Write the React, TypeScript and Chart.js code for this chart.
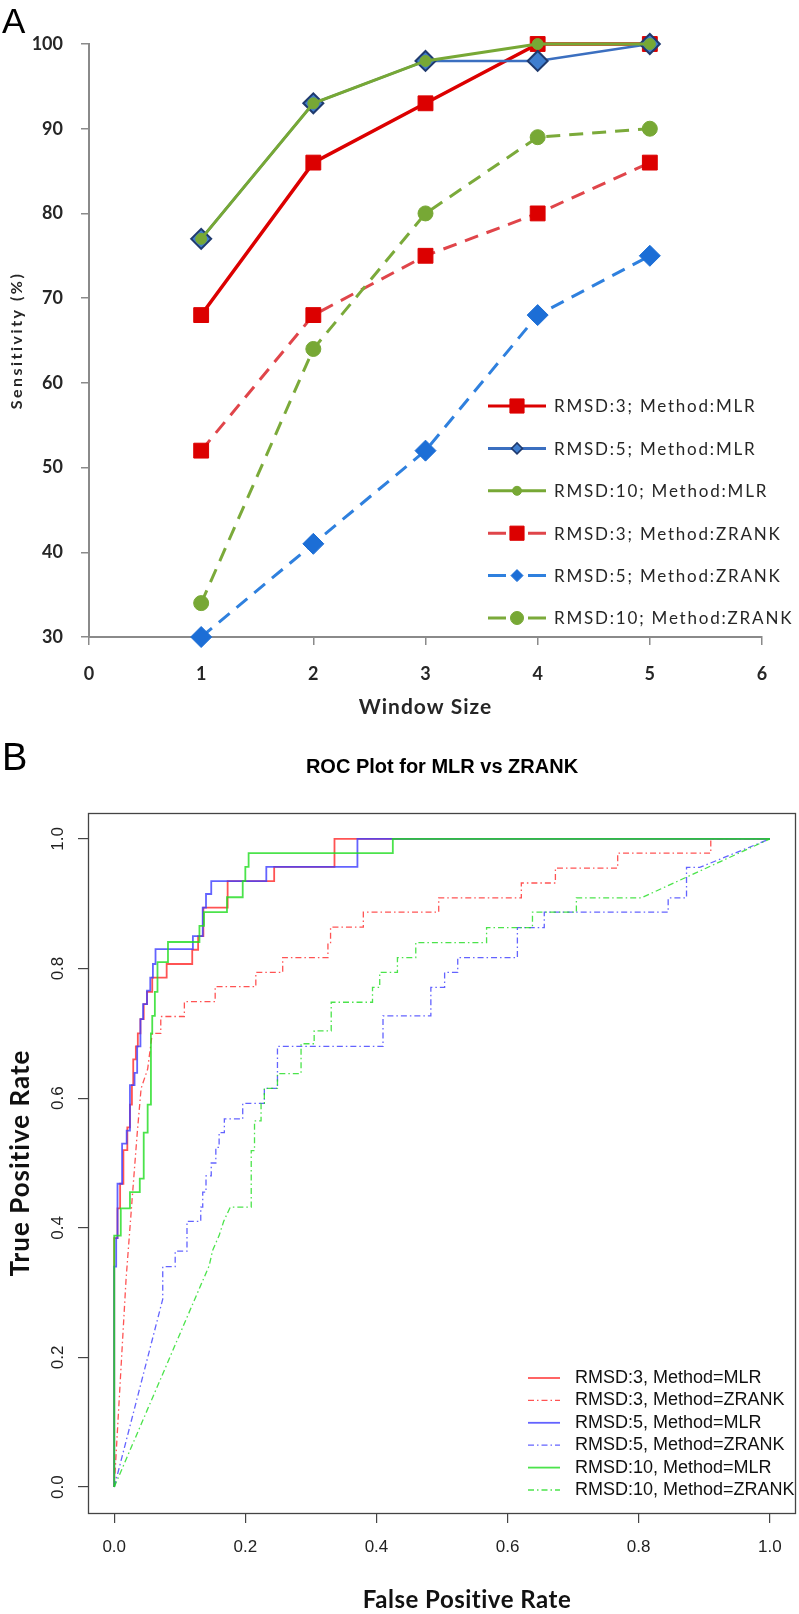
import React, { useEffect, useRef } from 'react';
import { Chart, registerables } from 'chart.js';

Chart.register(...registerables);

// ---------- Panel A data ----------
const windowSizes = [1, 2, 3, 4, 5];
const sensRmsd3Mlr = [68, 86, 93, 100, 100];
const sensRmsd5Mlr = [77, 93, 98, 98, 100];
const sensRmsd10Mlr = [77, 93, 98, 100, 100];
const sensRmsd3Zrank = [52, 68, 75, 80, 86];
const sensRmsd5Zrank = [30, 41, 52, 68, 75];
const sensRmsd10Zrank = [34, 64, 80, 89, 90];
const windowTicks = [0, 1, 2, 3, 4, 5, 6];
const sensTicks = [30, 40, 50, 60, 70, 80, 90, 100];
const legendALabels = [
  'RMSD:3; Method:MLR',
  'RMSD:5; Method:MLR',
  'RMSD:10; Method:MLR',
  'RMSD:3; Method:ZRANK',
  'RMSD:5; Method:ZRANK',
  'RMSD:10; Method:ZRANK',
];

// ---------- Panel B data (ROC curves) ----------
const rocR3MlrFpr = [0, 0, 0.005, 0.005, 0.009, 0.009, 0.014, 0.014, 0.02, 0.02, 0.024, 0.024, 0.027, 0.027, 0.029, 0.029, 0.033, 0.033, 0.036, 0.036, 0.04, 0.04, 0.045, 0.045, 0.05, 0.05, 0.058, 0.058, 0.08, 0.08, 0.119, 0.119, 0.128, 0.128, 0.136, 0.136, 0.173, 0.173, 0.244, 0.244, 0.336, 0.336, 1];
const rocR3MlrTpr = [0, 0.384, 0.384, 0.43, 0.43, 0.468, 0.468, 0.52, 0.52, 0.555, 0.555, 0.59, 0.59, 0.62, 0.62, 0.66, 0.66, 0.68, 0.68, 0.7, 0.7, 0.722, 0.722, 0.745, 0.745, 0.764, 0.764, 0.786, 0.786, 0.807, 0.807, 0.829, 0.829, 0.85, 0.85, 0.894, 0.894, 0.935, 0.935, 0.957, 0.957, 1, 1];

const rocR3ZrankFpr = [0, 0.018, 0.027, 0.035, 0.041, 0.051, 0.058, 0.071, 0.071, 0.107, 0.107, 0.154, 0.154, 0.216, 0.216, 0.257, 0.257, 0.326, 0.326, 0.33, 0.33, 0.38, 0.38, 0.495, 0.495, 0.621, 0.621, 0.673, 0.673, 0.768, 0.768, 0.91, 0.91, 1];
const rocR3ZrankTpr = [0, 0.32, 0.44, 0.545, 0.615, 0.645, 0.7, 0.7, 0.726, 0.726, 0.749, 0.749, 0.772, 0.772, 0.794, 0.794, 0.817, 0.817, 0.84, 0.84, 0.864, 0.864, 0.887, 0.887, 0.909, 0.909, 0.932, 0.932, 0.955, 0.955, 0.978, 0.978, 1, 1];

const rocR5MlrFpr = [0, 0, 0.003, 0.003, 0.005, 0.005, 0.012, 0.012, 0.019, 0.019, 0.024, 0.024, 0.031, 0.031, 0.035, 0.035, 0.04, 0.04, 0.044, 0.044, 0.05, 0.05, 0.055, 0.055, 0.059, 0.059, 0.063, 0.063, 0.12, 0.12, 0.135, 0.135, 0.14, 0.14, 0.148, 0.148, 0.232, 0.232, 0.371, 0.371, 1];
const rocR5MlrTpr = [0, 0.34, 0.34, 0.384, 0.384, 0.468, 0.468, 0.53, 0.53, 0.55, 0.55, 0.62, 0.62, 0.639, 0.639, 0.68, 0.68, 0.722, 0.722, 0.745, 0.745, 0.766, 0.766, 0.786, 0.786, 0.807, 0.807, 0.83, 0.83, 0.85, 0.85, 0.894, 0.894, 0.915, 0.915, 0.935, 0.935, 0.957, 0.957, 1, 1];

const rocR5ZrankFpr = [0, 0.074, 0.074, 0.093, 0.093, 0.111, 0.111, 0.132, 0.132, 0.135, 0.135, 0.14, 0.14, 0.148, 0.148, 0.155, 0.155, 0.16, 0.16, 0.168, 0.168, 0.196, 0.196, 0.229, 0.229, 0.249, 0.249, 0.41, 0.41, 0.483, 0.483, 0.504, 0.504, 0.524, 0.524, 0.615, 0.615, 0.656, 0.656, 0.845, 0.845, 0.873, 0.873, 0.893, 1];
const rocR5ZrankTpr = [0, 0.29, 0.34, 0.34, 0.364, 0.364, 0.41, 0.41, 0.432, 0.432, 0.455, 0.455, 0.48, 0.48, 0.5, 0.5, 0.524, 0.524, 0.547, 0.547, 0.568, 0.568, 0.592, 0.592, 0.615, 0.615, 0.68, 0.68, 0.727, 0.727, 0.771, 0.771, 0.794, 0.794, 0.817, 0.817, 0.863, 0.863, 0.887, 0.887, 0.909, 0.909, 0.956, 0.956, 1];

const rocR10MlrFpr = [0, 0, 0.01, 0.01, 0.024, 0.024, 0.039, 0.039, 0.045, 0.045, 0.051, 0.051, 0.056, 0.056, 0.058, 0.058, 0.062, 0.062, 0.066, 0.066, 0.082, 0.082, 0.13, 0.13, 0.137, 0.137, 0.172, 0.172, 0.196, 0.196, 0.2, 0.2, 0.205, 0.205, 0.425, 0.425, 1];
const rocR10MlrTpr = [0, 0.388, 0.388, 0.43, 0.43, 0.455, 0.455, 0.476, 0.476, 0.547, 0.547, 0.59, 0.59, 0.7, 0.7, 0.727, 0.727, 0.764, 0.764, 0.81, 0.81, 0.841, 0.841, 0.866, 0.866, 0.887, 0.887, 0.91, 0.91, 0.935, 0.935, 0.957, 0.957, 0.978, 0.978, 1, 1];

const rocR10ZrankFpr = [0, 0.145, 0.15, 0.16, 0.167, 0.177, 0.209, 0.209, 0.214, 0.214, 0.224, 0.224, 0.229, 0.229, 0.249, 0.249, 0.285, 0.285, 0.305, 0.305, 0.331, 0.331, 0.394, 0.394, 0.405, 0.405, 0.432, 0.432, 0.46, 0.46, 0.568, 0.568, 0.638, 0.638, 0.705, 0.705, 0.804, 1];
const rocR10ZrankTpr = [0, 0.342, 0.365, 0.388, 0.41, 0.432, 0.432, 0.519, 0.519, 0.565, 0.565, 0.592, 0.592, 0.615, 0.615, 0.638, 0.638, 0.684, 0.684, 0.704, 0.704, 0.748, 0.748, 0.771, 0.771, 0.794, 0.794, 0.817, 0.817, 0.84, 0.84, 0.863, 0.863, 0.887, 0.887, 0.909, 0.909, 1];

const rocTicks = [0, 0.2, 0.4, 0.6, 0.8, 1.0];
const rocTickLabels = ['0.0', '0.2', '0.4', '0.6', '0.8', '1.0'];
const legendBLabels = [
  'RMSD:3, Method=MLR',
  'RMSD:3, Method=ZRANK',
  'RMSD:5, Method=MLR',
  'RMSD:5, Method=ZRANK',
  'RMSD:10, Method=MLR',
  'RMSD:10, Method=ZRANK',
];

// ---------- styles ----------
const FONT_CAL = 'Lato, "Open Sans", sans-serif';
const FONT_ARIAL = '"Liberation Sans", Arial, sans-serif';
const AXIS_GRAY = '#8a8a8a';
const RED = '#DC0000';
const RED_DASH = '#E0454A';
const BLUE_MLR_LINE = '#3B6FC0';
const BLUE_MLR_FILL = '#3F7ECF';
const BLUE_MLR_EDGE = '#1F3A6E';
const BLUE_Z = '#1C6ED6';
const BLUE_Z_LINE = '#2F80DE';
const GREEN = '#77A835';
const GREEN_DASH = '#7BAA3A';
const DASH_A = [14, 9];

const ROC_RED = 'rgba(255,40,40,0.8)';
const ROC_BLUE = 'rgba(60,60,255,0.8)';
const ROC_GREEN = 'rgba(30,220,30,0.8)';
const ROC_DASH = [6, 3, 1.5, 3];

type LegendStyle = { line: string; lw: number; dashed: boolean; marker: string; r: number; fill: string; edge: string; ew: number };
const legendAStyles: LegendStyle[] = [
  { line: RED, lw: 3, dashed: false, marker: 'rect', r: 10, fill: RED, edge: RED, ew: 1 },
  { line: BLUE_MLR_LINE, lw: 3, dashed: false, marker: 'rectRot', r: 5.5, fill: BLUE_MLR_FILL, edge: BLUE_MLR_EDGE, ew: 1.5 },
  { line: GREEN, lw: 3, dashed: false, marker: 'circle', r: 4.5, fill: GREEN, edge: GREEN, ew: 1 },
  { line: RED_DASH, lw: 3, dashed: true, marker: 'rect', r: 10, fill: RED, edge: RED, ew: 1 },
  { line: BLUE_Z_LINE, lw: 3, dashed: true, marker: 'rectRot', r: 6, fill: BLUE_Z, edge: BLUE_Z, ew: 1 },
  { line: GREEN_DASH, lw: 3, dashed: true, marker: 'circle', r: 6.5, fill: GREEN, edge: GREEN, ew: 1 },
];
const legendBColors = [ROC_RED, ROC_RED, ROC_BLUE, ROC_BLUE, ROC_GREEN, ROC_GREEN];
const legendBDashed = [false, true, false, true, false, true];

const pts = (xs: number[], ys: number[]) => xs.map((x, i) => ({ x, y: ys[i] }));

function drawMarker(ctx: CanvasRenderingContext2D, s: LegendStyle, x: number, y: number) {
  ctx.beginPath();
  if (s.marker === 'rect') {
    const h = s.r * Math.SQRT1_2;
    ctx.rect(x - h, y - h, 2 * h, 2 * h);
  } else if (s.marker === 'rectRot') {
    ctx.moveTo(x, y - s.r);
    ctx.lineTo(x + s.r, y);
    ctx.lineTo(x, y + s.r);
    ctx.lineTo(x - s.r, y);
    ctx.closePath();
  } else {
    ctx.arc(x, y, s.r, 0, Math.PI * 2);
  }
  ctx.fillStyle = s.fill;
  ctx.fill();
  ctx.strokeStyle = s.edge;
  ctx.lineWidth = s.ew;
  ctx.setLineDash([]);
  ctx.stroke();
}

const panelAPlugin = {
  id: 'panelA',
  afterDraw(chart: any) {
    const ctx: CanvasRenderingContext2D = chart.ctx;
    const area = chart.chartArea;
    ctx.save();
    ctx.fillStyle = '#000';
    ctx.font = `35px ${FONT_ARIAL}`;
    ctx.textAlign = 'left';
    ctx.textBaseline = 'alphabetic';
    ctx.fillText('A', 2, 33);

    ctx.fillStyle = '#262626';
    // y title
    ctx.save();
    ctx.translate(17, (area.top + area.bottom) / 2);
    ctx.rotate(-Math.PI / 2);
    ctx.font = `bold 16px ${FONT_CAL}`;
    (ctx as any).letterSpacing = '2.5px';
    ctx.textAlign = 'center';
    ctx.textBaseline = 'middle';
    ctx.fillText('Sensitivity (%)', 0, 0);
    ctx.restore();
    // x title
    ctx.save();
    ctx.font = `bold 21px ${FONT_CAL}`;
    (ctx as any).letterSpacing = '1px';
    ctx.textAlign = 'center';
    ctx.textBaseline = 'middle';
    ctx.fillText('Window Size', (area.left + area.right) / 2, 707);
    ctx.restore();

    // legend
    const x0 = 488, x1 = 546, xm = 517;
    legendALabels.forEach((label, i) => {
      const s = legendAStyles[i];
      const y = 406 + i * 42.4;
      ctx.strokeStyle = s.line;
      ctx.lineWidth = s.lw;
      ctx.setLineDash([]);
      ctx.beginPath();
      if (s.dashed) {
        ctx.moveTo(x0, y); ctx.lineTo(x0 + 18, y);
        ctx.moveTo(x1 - 18, y); ctx.lineTo(x1, y);
      } else {
        ctx.moveTo(x0, y); ctx.lineTo(x1, y);
      }
      ctx.stroke();
      drawMarker(ctx, s, xm, y);
      ctx.fillStyle = '#262626';
      ctx.font = `17px ${FONT_CAL}`;
      (ctx as any).letterSpacing = '1.8px';
      ctx.textAlign = 'left';
      ctx.textBaseline = 'middle';
      ctx.fillText(label, 554, y + 1);
      (ctx as any).letterSpacing = '0px';
    });
    ctx.restore();
  },
};

const panelBPlugin = {
  id: 'panelB',
  afterDraw(chart: any) {
    const ctx: CanvasRenderingContext2D = chart.ctx;
    const area = chart.chartArea;
    const yScale = chart.scales.y;
    ctx.save();
    // box
    ctx.strokeStyle = '#444';
    ctx.lineWidth = 1.3;
    ctx.setLineDash([]);
    ctx.strokeRect(area.left + 0.5, area.top + 0.5, area.right - area.left - 1, area.bottom - area.top);

    ctx.fillStyle = '#000';
    ctx.font = `38px ${FONT_ARIAL}`;
    ctx.textAlign = 'left';
    ctx.textBaseline = 'alphabetic';
    ctx.fillText('B', 2, 50);

    ctx.font = `bold 20px ${FONT_ARIAL}`;
    ctx.textAlign = 'center';
    ctx.textBaseline = 'middle';
    ctx.fillText('ROC Plot for MLR vs ZRANK', (area.left + area.right) / 2, 47);

    // y tick labels (rotated, R style)
    ctx.fillStyle = '#222';
    ctx.font = `17px ${FONT_ARIAL}`;
    rocTicks.forEach((v, i) => {
      const y = yScale.getPixelForValue(v);
      ctx.save();
      ctx.translate(58, y);
      ctx.rotate(-Math.PI / 2);
      ctx.textAlign = 'center';
      ctx.textBaseline = 'middle';
      ctx.fillText(rocTickLabels[i], 0, 0);
      ctx.restore();
    });

    // axis titles
    ctx.fillStyle = '#111';
    ctx.save();
    ctx.translate(21, (area.top + area.bottom) / 2);
    ctx.rotate(-Math.PI / 2);
    ctx.font = `bold 26px ${FONT_CAL}`;
    (ctx as any).letterSpacing = '1px';
    ctx.textAlign = 'center';
    ctx.textBaseline = 'middle';
    ctx.fillText('True Positive Rate', 0, 0);
    ctx.restore();
    ctx.save();
    ctx.font = `bold 24px ${FONT_CAL}`;
    (ctx as any).letterSpacing = '0.5px';
    ctx.textAlign = 'center';
    ctx.textBaseline = 'middle';
    ctx.fillText('False Positive Rate', 467, 880);
    ctx.restore();

    // legend
    legendBLabels.forEach((label, i) => {
      const y = 658 + i * 22.4;
      ctx.strokeStyle = legendBColors[i];
      ctx.lineWidth = legendBDashed[i] ? 1.3 : 1.8;
      ctx.setLineDash(legendBDashed[i] ? ROC_DASH : []);
      ctx.beginPath();
      ctx.moveTo(528, y);
      ctx.lineTo(560, y);
      ctx.stroke();
      ctx.setLineDash([]);
      ctx.fillStyle = '#111';
      ctx.font = `18px ${FONT_ARIAL}`;
      ctx.textAlign = 'left';
      ctx.textBaseline = 'middle';
      ctx.fillText(label, 575, y);
    });
    ctx.restore();
  },
};

function lineA(label: string, ys: number[], line: string, dashed: boolean, style: string, r: number, fill: string, edge: string, ew: number, lw: number, order: number) {
  return {
    label,
    data: pts(windowSizes, ys),
    showLine: true,
    borderColor: line,
    borderWidth: lw,
    borderDash: dashed ? DASH_A : [],
    pointStyle: style,
    pointRadius: r,
    pointBackgroundColor: fill,
    pointBorderColor: edge,
    pointBorderWidth: ew,
    clip: false,
    order,
  };
}

function lineB(label: string, xs: number[], ys: number[], color: string, dashed: boolean, order: number) {
  return {
    label,
    data: pts(xs, ys),
    showLine: true,
    borderColor: color,
    borderWidth: dashed ? 1.3 : 1.8,
    borderDash: dashed ? ROC_DASH : [],
    pointRadius: 0,
    order,
  };
}

export default function App() {
  const refA = useRef<HTMLCanvasElement>(null);
  const refB = useRef<HTMLCanvasElement>(null);

  useEffect(() => {
    const chartA = new Chart(refA.current as HTMLCanvasElement, {
      type: 'scatter',
      data: {
        datasets: [
          lineA(legendALabels[0], sensRmsd3Mlr, RED, false, 'rect', 10.5, RED, RED, 1, 3.5, 2),
          lineA(legendALabels[1], sensRmsd5Mlr, BLUE_MLR_LINE, false, 'rectRot', 10, BLUE_MLR_FILL, BLUE_MLR_EDGE, 2, 2.5, 1),
          lineA(legendALabels[2], sensRmsd10Mlr, GREEN, false, 'circle', 5.5, GREEN, GREEN, 1, 3, 0),
          lineA(legendALabels[3], sensRmsd3Zrank, RED_DASH, true, 'rect', 10.5, RED, RED, 1, 3, 5),
          lineA(legendALabels[4], sensRmsd5Zrank, BLUE_Z_LINE, true, 'rectRot', 10.5, BLUE_Z, BLUE_Z, 1, 3, 4),
          lineA(legendALabels[5], sensRmsd10Zrank, GREEN_DASH, true, 'circle', 7.5, GREEN, GREEN, 1, 3, 3),
        ] as any,
      },
      options: {
        responsive: false,
        animation: false,
        events: [],
        layout: { padding: { top: 44, right: 37, bottom: 0, left: 0 } },
        plugins: { legend: { display: false }, tooltip: { enabled: false }, title: { display: false } },
        scales: {
          x: {
            type: 'linear',
            min: 0,
            max: 6,
            afterBuildTicks: (s: any) => { s.ticks = windowTicks.map((v) => ({ value: v })); },
            afterFit: (s: any) => { s.height = 83; },
            ticks: { font: { family: FONT_CAL, size: 18, weight: 'bold' }, color: '#262626', padding: 18 },
            grid: { display: true, drawOnChartArea: false, drawTicks: true, tickLength: 8, color: AXIS_GRAY, lineWidth: 1.5 },
            border: { display: true, color: AXIS_GRAY, width: 2 },
          },
          y: {
            type: 'linear',
            min: 30,
            max: 100,
            afterBuildTicks: (s: any) => { s.ticks = sensTicks.map((v) => ({ value: v })); },
            afterFit: (s: any) => { s.width = 89; },
            ticks: { font: { family: FONT_CAL, size: 18, weight: 'bold' }, color: '#262626', padding: 18 },
            grid: { display: true, drawOnChartArea: false, drawTicks: true, tickLength: 8, color: AXIS_GRAY, lineWidth: 1.5 },
            border: { display: true, color: AXIS_GRAY, width: 2 },
          },
        },
      } as any,
      plugins: [panelAPlugin],
    });

    const chartB = new Chart(refB.current as HTMLCanvasElement, {
      type: 'scatter',
      data: {
        datasets: [
          lineB(legendBLabels[0], rocR3MlrFpr, rocR3MlrTpr, ROC_RED, false, 5),
          lineB(legendBLabels[1], rocR3ZrankFpr, rocR3ZrankTpr, ROC_RED, true, 4),
          lineB(legendBLabels[2], rocR5MlrFpr, rocR5MlrTpr, ROC_BLUE, false, 3),
          lineB(legendBLabels[3], rocR5ZrankFpr, rocR5ZrankTpr, ROC_BLUE, true, 2),
          lineB(legendBLabels[4], rocR10MlrFpr, rocR10MlrTpr, ROC_GREEN, false, 1),
          lineB(legendBLabels[5], rocR10ZrankFpr, rocR10ZrankTpr, ROC_GREEN, true, 0),
        ] as any,
      },
      options: {
        responsive: false,
        animation: false,
        events: [],
        layout: { padding: { top: 93, right: 3, bottom: 0, left: 0 } },
        plugins: { legend: { display: false }, tooltip: { enabled: false }, title: { display: false } },
        scales: {
          x: {
            type: 'linear',
            min: -0.04,
            max: 1.04,
            afterBuildTicks: (s: any) => { s.ticks = rocTicks.map((v) => ({ value: v })); },
            afterFit: (s: any) => { s.height = 101; },
            ticks: { font: { family: FONT_ARIAL, size: 17 }, color: '#222', padding: 14, callback: (_v: any, i: number) => rocTickLabels[i] },
            grid: { display: true, drawOnChartArea: false, drawTicks: true, tickLength: 10, color: '#444', lineWidth: 1.2 },
            border: { display: false },
          },
          y: {
            type: 'linear',
            min: -0.04,
            max: 1.04,
            afterBuildTicks: (s: any) => { s.ticks = rocTicks.map((v) => ({ value: v })); },
            afterFit: (s: any) => { s.width = 88; },
            ticks: { display: false },
            grid: { display: true, drawOnChartArea: false, drawTicks: true, tickLength: 10, color: '#444', lineWidth: 1.2 },
            border: { display: false },
          },
        },
      } as any,
      plugins: [panelBPlugin],
    });

    return () => {
      chartA.destroy();
      chartB.destroy();
    };
  }, []);

  return (
    <div style={{ position: 'absolute', left: 0, top: 0, width: 799, height: 1614, background: '#fff', overflow: 'hidden' }}>
      <canvas ref={refA} width={799} height={720} style={{ position: 'absolute', left: 0, top: 0, width: 799, height: 720 }} />
      <canvas ref={refB} width={799} height={894} style={{ position: 'absolute', left: 0, top: 720, width: 799, height: 894 }} />
    </div>
  );
}
